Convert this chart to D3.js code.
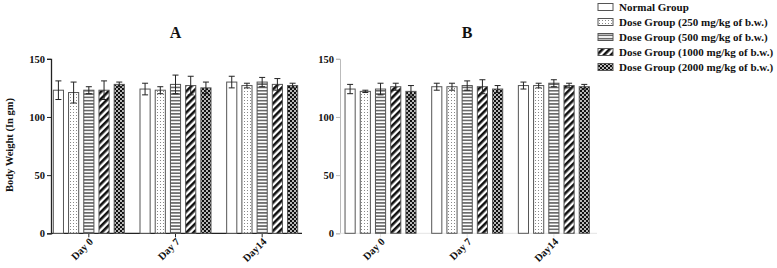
<!DOCTYPE html>
<html>
<head>
<meta charset="utf-8">
<script src="https://cdn.jsdelivr.net/npm/d3@7"></script>
<style>
  body { margin: 0; background: #fff; }
  svg { font-family: "Liberation Serif", "Times New Roman", serif; font-weight: bold; }
  .bar { stroke: #555; stroke-width: 1; }
  .err { stroke: #222; stroke-width: 1; fill: none; }
</style>
</head>
<body>
<div id="chart"></div>
<script>
// data
const days = ['Day 0', 'Day 7', 'Day14'];
const groups = ['Normal Group', 'Dose Group (250 mg/kg of b.w.)', 'Dose Group (500 mg/kg of b.w.)',
  'Dose Group (1000 mg/kg of b.w.)', 'Dose Group (2000 mg/kg of b.w.)'];
const yTicks = [0, 50, 100, 150];

// panel A, one row per day, one value per group
const meanA = [
  [123, 121, 123, 123, 128],
  [124, 123, 128, 127, 125],
  [130, 127, 130, 128, 127]
];
const errA = [
  [8, 9, 3, 8, 2],
  [5, 3, 8, 8, 5],
  [5, 2, 4, 5, 2]
];
// panel B
const meanB = [
  [124, 122, 124, 126, 122],
  [126, 126, 127, 126, 124],
  [127, 127, 129, 127, 126]
];
const errB = [
  [4, 1, 5, 3, 5],
  [3, 3, 4, 6, 3],
  [3, 2, 3, 2, 2]
];

const svg = d3.select('#chart').append('svg')
    .attr('width', 777)
    .attr('height', 268);

// fill patterns for the five groups
const defs = svg.append('defs');

let p = defs.append('pattern').attr('id', 'pat1')
    .attr('patternUnits', 'userSpaceOnUse').attr('width', 3).attr('height', 3);
p.append('rect').attr('width', 3).attr('height', 3).attr('fill', '#fff');
p.append('rect').attr('x', 1).attr('y', 1).attr('width', 1).attr('height', 1).attr('fill', '#888');

p = defs.append('pattern').attr('id', 'pat2')
    .attr('patternUnits', 'userSpaceOnUse').attr('width', 4).attr('height', 3.3);
p.append('rect').attr('width', 4).attr('height', 3.3).attr('fill', '#fff');
p.append('rect').attr('y', 1).attr('width', 4).attr('height', 1.3).attr('fill', '#444');

p = defs.append('pattern').attr('id', 'pat3')
    .attr('patternUnits', 'userSpaceOnUse').attr('width', 5).attr('height', 5)
    .attr('patternTransform', 'rotate(45)');
p.append('rect').attr('width', 5).attr('height', 5).attr('fill', '#fff');
p.append('rect').attr('width', 2.6).attr('height', 5).attr('fill', '#111');

p = defs.append('pattern').attr('id', 'pat4')
    .attr('patternUnits', 'userSpaceOnUse').attr('width', 4).attr('height', 4);
p.append('rect').attr('width', 4).attr('height', 4).attr('fill', '#111');
p.append('circle').attr('cx', 1).attr('cy', 1).attr('r', 0.95).attr('fill', '#fff');
p.append('circle').attr('cx', 3).attr('cy', 3).attr('r', 0.95).attr('fill', '#fff');

const fills = ['#fff', 'url(#pat1)', 'url(#pat2)', 'url(#pat3)', 'url(#pat4)'];

// shared vertical scale
const y = d3.scaleLinear().domain([0, 150]).range([233.3, 58.8]);

function drawPanel(opts) {
  const g = svg.append('g');

  const x0 = d3.scaleBand().domain(days).range(opts.xRange).padding(0);
  const x1 = d3.scaleBand().domain(groups).range([-35.5, 35.5]).paddingInner(1 / 3).paddingOuter(0);

  // y axis
  const yAxis = g.append('g')
      .attr('transform', `translate(${opts.axisX},0)`)
      .call(d3.axisLeft(y).tickValues(yTicks).tickSize(4).tickPadding(2));
  yAxis.select('.domain').attr('stroke', opts.axisColor).attr('stroke-width', opts.axisWidth);
  yAxis.selectAll('.tick line').attr('stroke', opts.axisColor);
  yAxis.selectAll('.tick text')
      .attr('fill', '#111').attr('font-size', 10.5).attr('font-family', 'Liberation Serif').attr('font-weight', 'bold');

  // x axis
  const xAxis = g.append('g')
      .attr('transform', `translate(0,${y(0)})`)
      .call(d3.axisBottom(x0).tickSize(4).tickSizeOuter(0).tickFormat(''));
  xAxis.select('.domain')
      .attr('d', `M${opts.axisX},0H${opts.xEnd}`)
      .attr('stroke', opts.xAxisColor).attr('stroke-width', opts.axisWidth);
  xAxis.selectAll('.tick line').attr('stroke', opts.xAxisColor);

  g.selectAll('.day-label')
      .data(days)
    .join('text')
      .attr('class', 'day-label')
      .attr('text-anchor', 'end')
      .attr('font-size', 10.5)
      .attr('fill', '#111')
      .attr('transform', d => `translate(${x0(d) + x0.bandwidth() / 2 + 5},${y(0) + 9}) rotate(-45)`)
      .text(d => d);

  // bars
  const rows = [];
  days.forEach((d, i) => groups.forEach((s, j) => {
    rows.push({day: d, group: s, idx: j, mean: opts.mean[i][j], err: opts.err[i][j]});
  }));

  const cx = r => x0(r.day) + x0.bandwidth() / 2 + x1(r.group);

  g.selectAll('.bar')
      .data(rows)
    .join('rect')
      .attr('class', 'bar')
      .attr('x', cx)
      .attr('y', r => y(r.mean))
      .attr('width', x1.bandwidth())
      .attr('height', r => y(0) - y(r.mean))
      .attr('fill', r => fills[r.idx]);

  // error bars, mean +/- error, drawn over the bars
  g.selectAll('.err')
      .data(rows)
    .join('path')
      .attr('class', 'err')
      .attr('d', r => {
        const m = cx(r) + x1.bandwidth() / 2;
        const hi = y(r.mean + r.err), lo = y(r.mean - r.err);
        return `M${m},${lo}V${hi}M${m - 3},${hi}H${m + 3}M${m - 3},${lo}H${m + 3}`;
      });

  // panel title
  svg.append('text')
      .attr('x', (opts.xRange[0] + opts.xRange[1]) / 2)
      .attr('y', 38)
      .attr('text-anchor', 'middle')
      .attr('font-size', 16)
      .attr('fill', '#111')
      .text(opts.title);
}

drawPanel({title: 'A', mean: meanA, err: errA, xRange: [45.5, 305.5], axisX: 51, xEnd: 302,
  axisColor: '#222', xAxisColor: '#222', axisWidth: 1.3});
drawPanel({title: 'B', mean: meanB, err: errB, xRange: [337.2, 597.2], axisX: 340, xEnd: 597,
  axisColor: '#bbb', xAxisColor: '#e4e4e4', axisWidth: 1});

// y axis title
svg.append('text')
    .attr('transform', 'translate(13,145) rotate(-90)')
    .attr('text-anchor', 'middle')
    .attr('font-size', 10.5)
    .attr('fill', '#111')
    .text('Body Weight (In gm)');

// legend
const legend = svg.append('g').attr('transform', 'translate(598,0)');
const item = legend.selectAll('.legend-item')
    .data(groups)
  .join('g')
    .attr('class', 'legend-item')
    .attr('transform', (d, i) => `translate(0,${7 + i * 15})`);
item.append('rect')
    .attr('class', 'bar')
    .attr('x', 0).attr('y', -3.5)
    .attr('width', 15).attr('height', 7)
    .attr('fill', (d, i) => fills[i]);
item.append('text')
    .attr('x', 21).attr('dy', '0.35em')
    .attr('font-size', 11)
    .attr('fill', '#111')
    .text(d => d);
</script>
</body>
</html>
